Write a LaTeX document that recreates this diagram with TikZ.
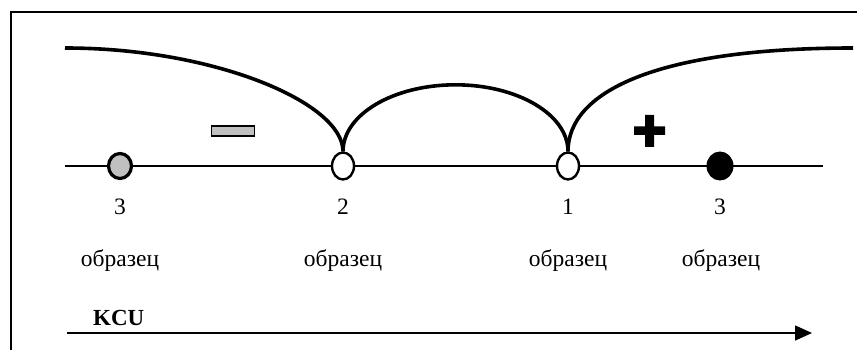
\documentclass[tikz,border=0pt]{standalone}
\usepackage{fontspec}
\setmainfont{Liberation Serif}
\usetikzlibrary{arrows.meta,shapes.geometric}

\definecolor{samplegrey}{RGB}{192,192,192}

\tikzset{
	lbl/.style={inner sep=0pt, anchor=base, font=\fontsize{23.5}{28}\selectfont},
	opensample/.style={draw, ellipse, fill=white, line width=2.4pt, minimum width=22pt, minimum height=27pt, inner sep=0pt},
	greysample/.style={draw, ellipse, fill=samplegrey, line width=3.2pt, minimum width=23pt, minimum height=25pt, inner sep=0pt},
	blacksample/.style={draw, ellipse, fill=black, line width=1pt, minimum width=26pt, minimum height=28pt, inner sep=0pt},
	bigarc/.style={line width=3.6pt},
}

\begin{document}
\begin{tikzpicture}[x=1pt, y=-1pt]
	\useasboundingbox (0,0) rectangle (857,350);
	\draw[line width=1.8pt] (11,350) -- (11,12) -- (857,12);

	\coordinate (axisL) at (65,166);
	\coordinate (axisR) at (823,166);
	\coordinate (arcL) at (65,48);
	\coordinate (arcR) at (853,48);
	\coordinate (kcuL) at (67,333);
	\coordinate (kcuR) at (812,333);

	\draw[line width=1.3pt] (axisL) -- (axisR);

	\node[greysample] (s3l) at (120,166) {};
	\node[opensample] (s2) at (343,166) {};
	\node[opensample] (s1) at (568,166) {};
	\node[blacksample] (s3r) at (720,166) {};

	\draw[bigarc] (arcL) .. controls (215,48) and (343,103) .. (s2.north);
	\draw[bigarc] (s2.north) arc[start angle=180, end angle=360, x radius=112.5, y radius=66.5];
	\draw[bigarc] (s1.north) .. controls (568,93) and (653,48) .. (arcR);

	\node[draw, fill=samplegrey, line width=1.8pt, minimum width=43pt, minimum height=10pt, inner sep=0pt] (minus) at (233,131) {};
	\fill (634,126.5) rectangle (665,135) (645,115) rectangle (654,147);

	\node[lbl] (n3l) at (120,214) {3};
	\node[lbl] (n2) at (343,214) {2};
	\node[lbl] (n1) at (568,214) {1};
	\node[lbl] (n3r) at (720,214) {3};

	\node[lbl] (t3l) at (120,266) {образец};
	\node[lbl] (t2) at (343,266) {образец};
	\node[lbl] (t1) at (568,266) {образец};
	\node[lbl] (t3r) at (721,266) {образец};

	\node[lbl, anchor=base west, font=\fontsize{23}{28}\selectfont\bfseries] (kcu) at (93,325) {KCU};
	\draw[line width=1.5pt, -{Triangle[length=17pt, width=15pt]}] (kcuL) -- (kcuR);
\end{tikzpicture}
\end{document}
